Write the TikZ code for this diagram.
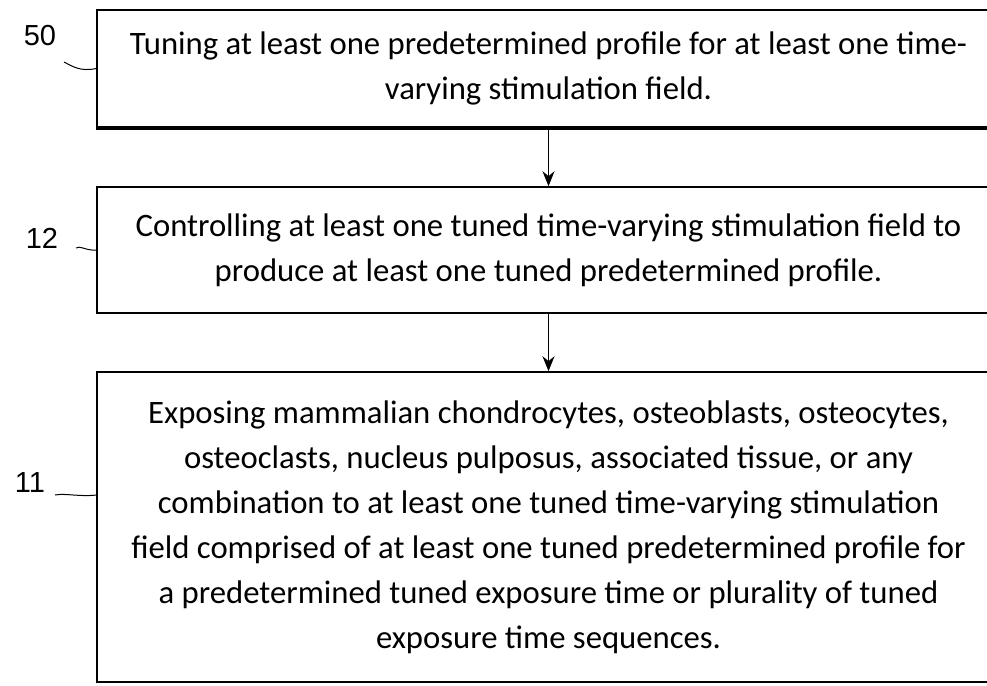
\documentclass[tikz,border=0pt]{standalone}
\usepackage{fontspec}
\setmainfont{Carlito}
\newfontfamily\labfont{Liberation Sans}
\usetikzlibrary{arrows.meta}
\begin{document}
\begin{tikzpicture}[x=1pt,y=-1pt,
  stepbox/.style={draw=black, line width=1.5pt, minimum width=903pt, inner sep=0pt, align=center, font=\fontsize{32.7}{45}\selectfont},
  reflabel/.style={font=\labfont\fontsize{29}{32}\selectfont, inner sep=0pt},
  leader/.style={line width=1pt},
  flow/.style={line width=1.4pt, -{Stealth[length=15pt,width=12pt]}}]
\useasboundingbox (0,0) rectangle (987,685);
\node[stepbox, minimum height=117pt] (b1) at (548.5,68.5) {Tuning at least one predetermined profile for at least one time-\\varying stimulation field.};
\node[stepbox, minimum height=126pt] (b2) at (548.5,250) {Controlling at least one tuned time-varying stimulation field to\\produce at least one tuned predetermined profile.};
\node[stepbox, minimum height=310pt] (b3) at (548.5,527) {Exposing mammalian chondrocytes, osteoblasts, osteocytes,\\osteoclasts, nucleus pulposus, associated tissue, or any\\combination to at least one tuned time-varying stimulation\\field comprised of at least one tuned predetermined profile for\\a predetermined tuned exposure time or plurality of tuned\\exposure time sequences.};
\draw[line width=3.5pt] (b1.south west) -- (b1.south east);
\draw[flow] (b1.south) -- (b2.north);
\draw[flow] (b2.south) -- (b3.north);
\node[reflabel] (l50) at (40,36) {50};
\node[reflabel] (l12) at (42,238) {12};
\node[reflabel] (l11) at (30,483) {11};
\coordinate (t50) at (64,62);
\coordinate (t12) at (76,248);
\coordinate (t11) at (55,495);
\draw[leader] (t50) .. controls (72,66) and (80,72) .. (b1.west);
\draw[leader] (t12) .. controls (80,245) and (86,251) .. (b2.west);
\draw[leader] (t11) .. controls (65,493) and (80,497) .. ([yshift=32pt]b3.west);
\end{tikzpicture}
\end{document}
